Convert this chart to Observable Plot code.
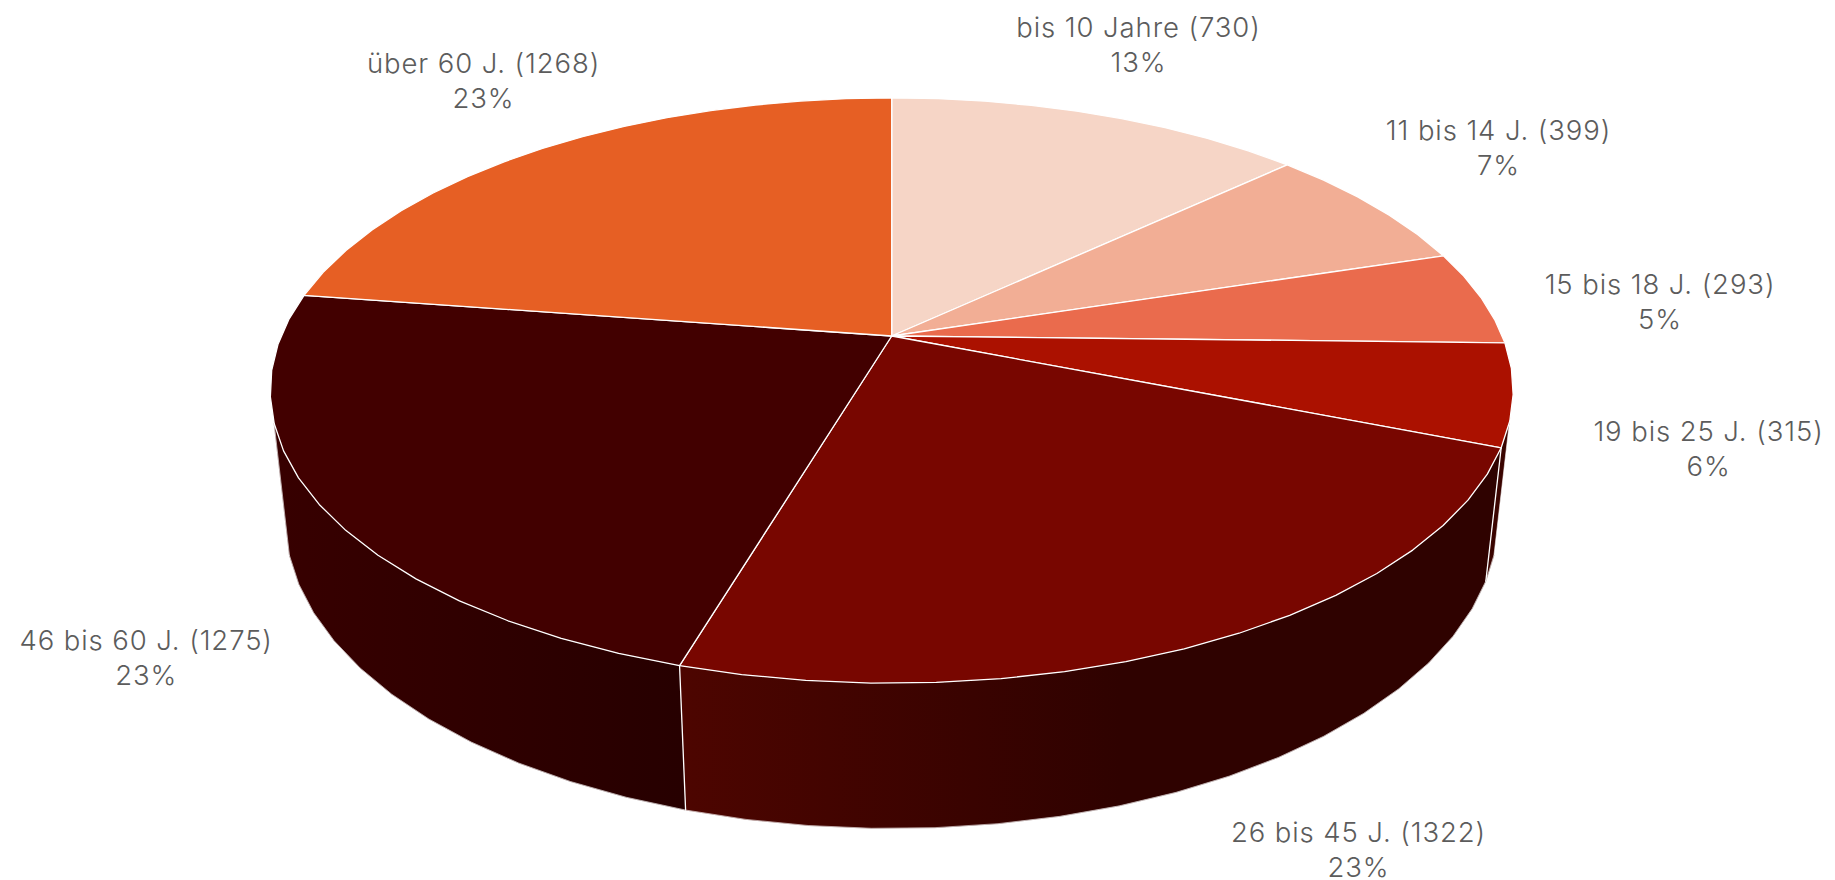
<!DOCTYPE html>
<html>
<head>
<meta charset="utf-8">
<style>html,body{margin:0;padding:0;background:#fff}svg{display:block}</style>
<script src="https://cdn.jsdelivr.net/npm/d3@7"></script>
<script src="https://cdn.jsdelivr.net/npm/@observablehq/plot@0.6"></script>
</head>
<body>
<script>
// Chart values
const categories = ["bis 10 Jahre", "11 bis 14 J.", "15 bis 18 J.", "19 bis 25 J.", "26 bis 45 J.", "46 bis 60 J.", "über 60 J."];
const values = [730, 399, 293, 315, 1322, 1275, 1268];
const percents = [13, 7, 5, 6, 23, 23, 23];
const topColors = ["#f6d5c6", "#f2ae95", "#ea6b4d", "#ab1100", "#780600", "#420000", "#e65f24"];
// Label placement (x centre, y of the last baseline), in chart coordinates
const labelX = [1138, 1498, 1659.5, 1708, 1358, 145.7, 483];
const labelY = [71, 174, 328, 475.5, 876, 684.5, 107];
// Side wall shading: slice index, x at which the shade starts, colour, x at which it ends, colour
const sideShades = [
  {slice: 3, x0: 1480, c0: "#3a0400", x1: 1520, c1: "#3a0400"},
  {slice: 4, x0: 680, c0: "#4d0500", x1: 1120, c1: "#2f0200"},
  {slice: 5, x0: 280, c0: "#370000", x1: 680, c1: "#270000"}
];
// Angles (degrees) between which the wall is on the visible front of the disc
const visibleFrom = 107, visibleTo = 253;

// Perspective of the disc
const cam = {cx: 891.2, cy: 335.5, A: 610.6, B: 282.5, C: 130, p: 0.1864, q: 0.02406};
const project = (deg, z) => {
  const t = deg * Math.PI / 180, X = Math.sin(t), Y = -Math.cos(t);
  const w = 1 - cam.p * Y + cam.q * z;
  return {x: cam.cx + cam.A * X / w, y: cam.cy + (cam.B * Y + cam.C * z) / w};
};
const centre = z => {
  const w = 1 + cam.q * z;
  return {x: cam.cx, y: cam.cy + cam.C * z / w};
};

const total = d3.sum(values);
const cum = d3.cumsum(values);
const slices = categories.map((name, i) => {
  const a0 = (cum[i] - values[i]) / total * 360, a1 = cum[i] / total * 360;
  const n = Math.max(1, Math.round((a1 - a0) / 5));
  return {name, i, a0, a1, angles: d3.range(n + 1).map(k => a0 + (a1 - a0) * k / n)};
});

// Top face polygons
const topRows = slices.flatMap(s => {
  const pts = [centre(0), ...s.angles.map(a => project(a, 0)), centre(0)];
  return pts.map(p => ({...p, name: s.name, fill: topColors[s.i]}));
});

// Part of a slice's rim that lies on the visible front, ending exactly on the silhouette
const frontAngles = s => {
  const lo = Math.max(s.a0, visibleFrom), hi = Math.min(s.a1, visibleTo);
  return [lo, ...s.angles.filter(a => a > lo && a < hi), hi];
};
// One wall polygon per visible slice: top rim forward, bottom rim back
const wallRows = s => {
  const as = frontAngles(s);
  return [...as.map(a => project(a, 0)), ...as.slice().reverse().map(a => project(a, 1))];
};

// Bottom rim and outer silhouette of the wall
const rimRows = slices.filter(s => sideShades.some(d => d.slice === s.i)).flatMap(s =>
  frontAngles(s).map(a => ({...project(a, 1), id: s.name}))
);
const silhouetteRows = [visibleFrom, visibleTo].flatMap((a, k) =>
  [project(a, 0), project(a, 1)].map(p => ({...p, id: k}))
);

// Vertical edges between the visible walls
const edgeRows = [slices[3].a1, slices[4].a1].flatMap((a, k) =>
  [project(a, 0), project(a, 1)].map(p => ({...p, id: k}))
);

const labels = categories.map((c, i) => ({
  text: `${c} (${values[i]})\n${percents[i]}%`, x: labelX[i], y: labelY[i]
}));

// Horizontal gradients for the walls, placed through the x scale
const gradients = (index, scales) => {
  const defs = d3.create("svg:defs");
  sideShades.forEach(d => {
    const g = defs.append("linearGradient")
      .attr("id", `wall${d.slice}`).attr("gradientUnits", "userSpaceOnUse")
      .attr("x1", scales.x(d.x0)).attr("x2", scales.x(d.x1)).attr("y1", 0).attr("y2", 0);
    g.append("stop").attr("offset", 0).attr("stop-color", d.c0);
    g.append("stop").attr("offset", 1).attr("stop-color", d.c1);
  });
  return defs.node();
};

const chart = Plot.plot({
  width: 1835, height: 880,
  margin: 0,
  x: {domain: [0, 1835], range: [0, 1835], axis: null},
  y: {domain: [0, 880], range: [0, 880], axis: null},
  color: {type: "identity"},
  style: {letterSpacing: "0.9px"},
  marks: [
    gradients,
    ...sideShades.map(d => Plot.line(wallRows(slices[d.slice]), {
      x: "x", y: "y", fill: `url(#wall${d.slice})`, stroke: `url(#wall${d.slice})`, strokeWidth: 0.5, curve: "linear"
    })),
    Plot.line(rimRows, {x: "x", y: "y", z: "id", stroke: "white", strokeOpacity: 0.7, strokeWidth: 0.8, curve: "linear"}),
    Plot.line(silhouetteRows, {x: "x", y: "y", z: "id", stroke: "white", strokeOpacity: 0.7, strokeWidth: 0.8, curve: "linear"}),
    Plot.line(edgeRows, {x: "x", y: "y", z: "id", stroke: "white", strokeWidth: 1.3, curve: "linear"}),
    Plot.line(topRows, {x: "x", y: "y", z: "name", fill: "fill", stroke: "white", strokeWidth: 1.3, strokeLinejoin: "round", curve: "linear"}),
    Plot.text(labels, {
      x: "x", y: "y", text: "text", textAnchor: "middle", lineAnchor: "bottom",
      lineHeight: 1.27, fontSize: 27.5, fontFamily: "Inter", fontWeight: 300, fill: "#5c5c5c"
    })
  ]
});
document.body.appendChild(chart);
</script>
</body>
</html>
